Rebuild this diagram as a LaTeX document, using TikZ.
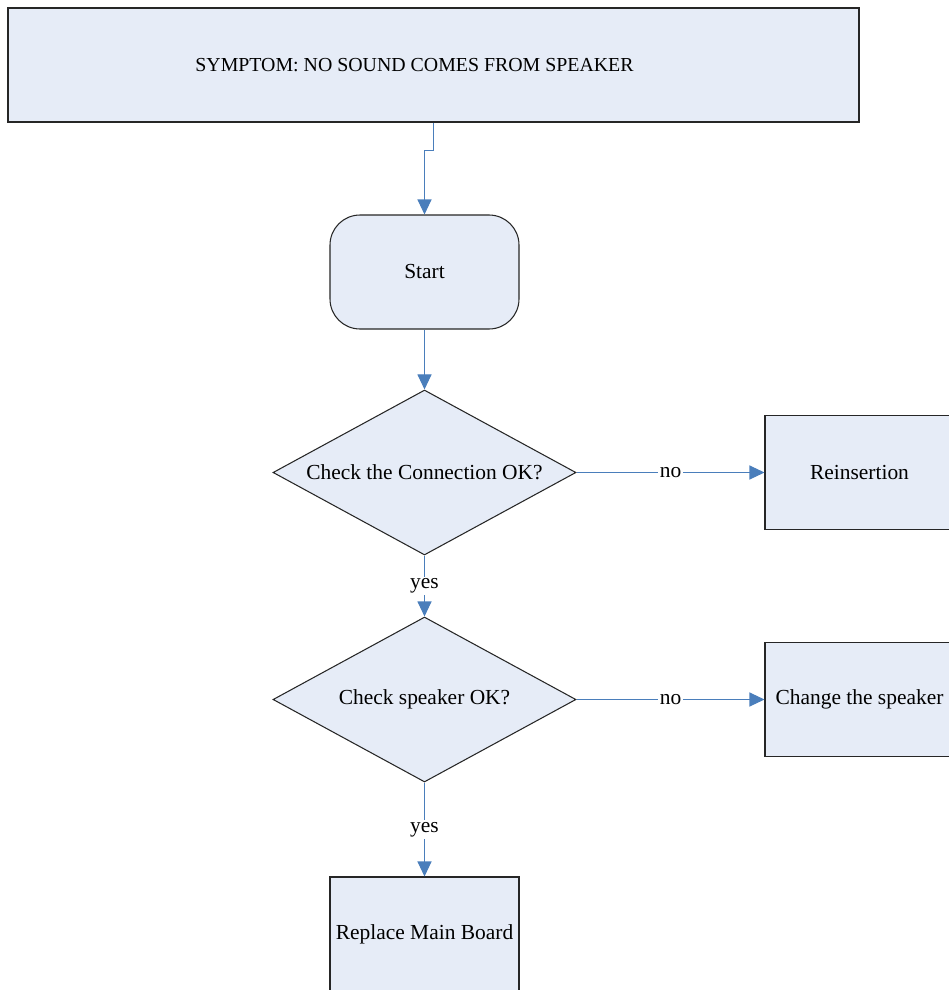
\documentclass[tikz,border=0pt]{standalone}
\usepackage{fontspec}
\setmainfont{Liberation Serif}
\usetikzlibrary{shapes.geometric,arrows.meta}
\definecolor{Fuellung}{HTML}{E6ECF7}
\definecolor{Linie}{HTML}{4A7EBB}
\tikzstyle{Kasten}= [rectangle,draw=black!85,fill=Fuellung,line width=0.6pt,inner sep=1pt,minimum width=3.78cm,minimum height=2.28cm]
\tikzstyle{Start}= [Kasten,rounded corners=0.6cm]
\tikzstyle{Raute}= [diamond,draw=black!85,fill=Fuellung,line width=0.6pt,inner sep=0pt,minimum width=6.06cm,minimum height=3.3cm]
\tikzstyle{Pfeil}= [draw=Linie,line width=0.6pt,-{Triangle[length=0.3cm,width=0.28cm]}]
\tikzstyle{Marke}= [fill=white,inner sep=1pt,text=black]

\begin{document}
\begin{tikzpicture}[font=\fontsize{12.2}{14}\selectfont]
	\useasboundingbox (0,0) rectangle (18.96,-19.8);

		\node [Kasten,minimum width=17.02cm,label={[xshift=-0.38cm,font=\fontsize{11.3}{13}\selectfont]center:SYMPTOM: NO SOUND COMES FROM SPEAKER}] (titel) at (8.67,-1.3) {};
		\node [Start] (start) at (8.49,-5.44) {Start};
		\node [Raute,label=center:{Check the Connection OK?}] (verb) at (8.49,-9.45) {};
		\node [Kasten] (neu) at (17.19,-9.45) {Reinsertion};
		\node [Raute,label=center:{Check speaker OK?}] (lsp) at (8.49,-13.99) {};
		\node [Kasten] (wechsel) at (17.19,-13.99) {Change the speaker};
		\node [Kasten] (board) at (8.49,-18.68) {Replace Main Board};

		\draw[Pfeil]
		(titel.south) -- ++(0,-0.56) -| (start.north);
		\draw[Pfeil]
		(start) -- (verb);
		\draw[Pfeil]
		(verb) -- node[Marke] {no} (neu);
		\draw[Pfeil]
		(verb) -- node[Marke] {yes} (lsp);
		\draw[Pfeil]
		(lsp) -- node[Marke] {no} (wechsel);
		\draw[Pfeil]
		(lsp) -- node[Marke] {yes} (board);
		;

	\end{tikzpicture}
\end{document}
